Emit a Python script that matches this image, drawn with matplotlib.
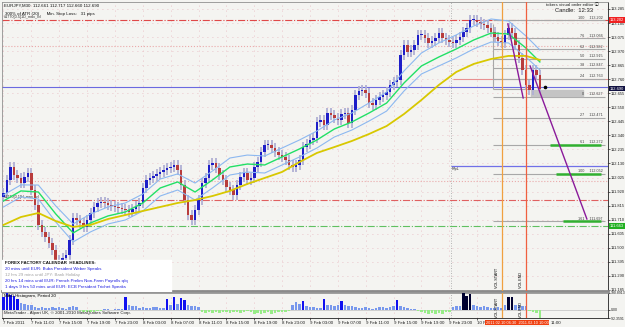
import matplotlib
matplotlib.use("Agg")
import matplotlib.pyplot as plt

# EURJPY M30 closes, one per bar (bar 0 = 7 Feb 07:00)
closes = [111.910, 112.007, 112.104, 112.044, 112.022, 111.984, 112.029, 112.059, 111.932, 111.820,
          111.671, 111.618, 111.581, 111.536, 111.484, 111.409, 111.394, 111.424, 111.446, 111.558,
          111.723, 111.708, 111.686, 111.656, 111.708, 111.760, 111.805, 111.835, 111.842, 111.835,
          111.820, 111.813, 111.805, 111.798, 111.790, 111.783, 111.768, 111.790, 111.813, 111.835,
          111.947, 112.007, 112.022, 112.037, 112.052, 112.067, 112.082, 112.097, 112.104, 112.119,
          112.082, 111.969, 111.857, 111.745, 111.708, 111.783, 111.857, 111.984, 112.022, 112.119,
          112.134, 112.097, 112.044, 112.007, 111.955, 111.932, 111.895, 111.969, 112.029, 112.059,
          112.007, 112.022, 112.104, 112.141, 112.216, 112.268, 112.268, 112.246, 112.216, 112.194,
          112.179, 112.156, 112.119, 112.104, 112.119, 112.156, 112.253, 112.276, 112.306, 112.321,
          112.440, 112.455, 112.418, 112.508, 112.493, 112.470, 112.455, 112.500, 112.508, 112.433,
          112.530, 112.642, 112.672, 112.679, 112.657, 112.582, 112.567, 112.605, 112.627, 112.642,
          112.664, 112.717, 112.739, 112.754, 112.941, 113.016, 112.963, 112.978, 113.016, 113.090,
          113.090, 113.068, 113.031, 113.046, 113.068, 113.105, 113.068, 113.053, 113.038, 113.031,
          113.053, 113.075, 113.113, 113.143, 113.203, 113.203, 113.188, 113.173, 113.165, 113.143,
          113.113, 113.075, 113.046, 113.031, 113.090, 113.143, 113.105, 113.016, 112.919, 112.829,
          112.717, 112.679, 112.829, 112.792, 112.690]
first_open = 111.880

# moving averages read every 5 bars (last point = bar 154)
ma_bars = [0, 5, 10, 15, 20, 25, 30, 35, 40, 45, 50, 55, 60, 65, 70, 75, 80, 85, 90, 95,
           100, 105, 110, 115, 120, 125, 130, 135, 140, 145, 150, 154]
ma_mid = [111.850, 111.925, 111.917, 111.753, 111.611, 111.686, 111.738, 111.768, 111.835, 111.947,
          111.992, 111.917, 112.007, 112.104, 112.126, 112.119, 112.179, 112.239, 112.306, 112.388,
          112.440, 112.508, 112.582, 112.732, 112.859, 112.926, 112.986, 113.053, 113.105, 113.098,
          112.993, 112.889]
ma_up = [111.895, 111.970, 111.969, 111.813, 111.678, 111.753, 111.805, 111.835, 111.902, 112.014,
         112.052, 111.984, 112.074, 112.171, 112.193, 112.186, 112.246, 112.306, 112.373, 112.455,
         112.507, 112.583, 112.664, 112.822, 112.956, 113.031, 113.091, 113.158, 113.210, 113.195,
         113.083, 112.979]
ma_dn = [111.805, 111.880, 111.865, 111.693, 111.544, 111.619, 111.678, 111.708, 111.775, 111.887,
         111.932, 111.857, 111.947, 112.044, 112.066, 112.059, 112.119, 112.179, 112.246, 112.328,
         112.380, 112.448, 112.522, 112.672, 112.799, 112.859, 112.919, 112.986, 113.038, 113.031,
         112.926, 112.829]
ma_slow = [111.671, 111.730, 111.760, 111.700, 111.656, 111.671, 111.715, 111.745, 111.775, 111.805,
           111.835, 111.857, 111.887, 111.925, 111.977, 112.022, 112.067, 112.141, 112.209, 112.253,
           112.298, 112.351, 112.410, 112.500, 112.605, 112.717, 112.814, 112.874, 112.911, 112.934,
           112.934, 112.904]

# histogram sub window, one value per bar
hist = [150, 190, 170, 160, 120, 80, 70, 60, 50, 35, 25, 30, 20, 25, 30, 20, 30, 25, 15, 35,
        40, 30, -15, -25, -20, -30, -20, -15, -10, 5, 10, -5, 10, 15, 5, 140, 55, 45, 40, 25,
        30, 20, 25, 35, 30, 20, 25, 120, 60, 150, 70, 130, 110, 50, 40, 45, 30, -20, -35, -30,
        -40, -25, -35, -30, -20, -40, -30, -25, -35, -20, -15, -30, -45, -35, -50, -40, -30, -45, -35, -25,
        -30, -20, -10, 60, 90, 70, 95, 40, 30, 35, 20, 25, 120, 55, 50, 45, 60, 100, 50, 45,
        40, 35, 20, 25, 30, 20, 15, 25, 30, 35, 25, 30, 40, 110, 40, 35, 25, 10, 15, -10,
        -25, -35, -45, -40, -50, -35, -45, -30, -20, 30, 45, 40, 190, 160, 175, 50, 40, 35, 45, 30,
        25, 20, 30, 25, 60, 140, 150, 60, 55, 45, 40, -15, -25, -35, -92]
hist_black = [132, 133, 134, 145, 146]
hist_max, hist_min = 190.8913, -92.3591

# price axis
price_ticks = [111.185, 111.290, 111.395, 111.500, 111.605, 111.710, 111.815, 111.920, 112.025,
               112.130, 112.235, 112.340, 112.445, 112.550, 112.655, 112.760, 112.865, 112.970,
               113.075, 113.180, 113.285]
time_ticks = [0, 8, 16, 24, 32, 40, 48, 56, 64, 72, 80, 88, 96, 104, 112, 120, 128, 136]
time_labels = ["7 Feb 2011", "7 Feb 11:00", "7 Feb 15:00", "7 Feb 19:00", "7 Feb 23:00",
               "8 Feb 03:00", "8 Feb 07:00", "8 Feb 11:00", "8 Feb 15:00", "8 Feb 19:00",
               "8 Feb 23:00", "9 Feb 03:00", "9 Feb 07:00", "9 Feb 11:00", "9 Feb 15:00",
               "9 Feb 19:00", "9 Feb 23:00", "10 F"]
time_box = "2011.02.10 06:30  2011.02.10 10:00"
time_tail = "11:00"

# fibonacci object
fib_lo, fib_hi = 112.627, 113.202
fib_ratios = [1.0, 0.764, 0.618, 0.5, 0.382, 0.236, 0.0, -0.272, -0.618, -1.0, -1.618]
fib_names = ["100", "76", "62", "50", "38", "24", "0", "27", "61", "100", "161"]
fib_start = 140.5
tp_ratios = [-0.618, -1.0, -1.618]
tp_starts = [157.0, 158.5, 160.5]

# other objects
hlines = [(113.202, "#e04848", "-."), (113.008, "#eaaaaa", ":"), (112.702, "#6a6ae0", "-"),
          (111.999, "#eaaaaa", ":"), (111.857, "#e06060", "-."), (111.663, "#60c060", "-.")]
rpl_level, rpl_start = 112.111, 128.5
red_level, red_start = 112.762, 129.0
day_sep = 128.5
vol_start, vol_end = 143.0, 150.0
trend1 = ([144.8, 149.2], [113.173, 112.620])
trend2 = ([151.2, 167.5], [112.859, 111.715])
dot = (155.5, 112.702)
bid = closes[-1]

plt.rcParams["font.family"] = ["Liberation Sans", "DejaVu Sans", "Noto Sans CJK JP"]
BG = "#f4f4f1"
fs = 3.2
fig = plt.figure(figsize=(6.25, 3.27), dpi=100)
fig.patch.set_facecolor(BG)
ax = fig.add_axes([2 / 625, 1 - 291 / 327, 606 / 625, 289 / 327])
axl = fig.add_axes([2 / 625, 1 - 318 / 327, 606 / 625, 25 / 327], sharex=ax)
for a in (ax, axl):
    a.set_facecolor(BG)
    for s in a.spines.values():
        s.set_color("#909090")
        s.set_linewidth(0.6)
    a.spines["right"].set_color("#202020")
    a.yaxis.tick_right()
    a.tick_params(axis="y", labelsize=2.9, length=1.2, width=0.5, pad=0.8, colors="#202020")
axl.tick_params(axis="y", labelsize=2.5)
ax.spines["bottom"].set_linewidth(2)
ax.spines["bottom"].set_color("#8a8a8a")
axl.spines["bottom"].set_color("#202020")

ax.set_xlim(-0.43, 173.56)
ax.set_ylim(111.177, 113.337)
ax.set_yticks(price_ticks)
ax.set_yticklabels([f"{p:.3f}" for p in price_ticks])
ax.tick_params(axis="x", bottom=False, labelbottom=False)
ax.grid(True, color="#e8b4bc", linestyle=(0, (1, 5)), linewidth=0.6)

# candles
opens = [first_open] + closes[:-1]
for i, (o, c) in enumerate(zip(opens, closes)):
    lo, hi = min(o, c), max(o, c)
    ax.vlines(i, lo - 0.035, hi + 0.035, color="#b0b0d4", lw=1.3, zorder=3)
    col = "#1e1ec8" if c >= o else "#b83c3c"
    ax.bar(i, max(hi - lo, 0.008), bottom=lo, width=0.72, color=col, lw=0, zorder=4)

ax.plot(ma_bars, ma_up, color="#8cb8f0", lw=0.8, zorder=5)
ax.plot(ma_bars, ma_dn, color="#8cb8f0", lw=0.8, zorder=5)
ax.plot(ma_bars, ma_mid, color="#22e066", lw=1.0, zorder=5)
ax.plot(ma_bars, ma_slow, color="#d8c800", lw=1.3, zorder=5)

xr = ax.get_xlim()[1]
for lvl, col, ls in hlines:
    ax.axhline(lvl, color=col, ls=ls, lw=0.8, zorder=2)
ax.hlines(red_level, red_start, xr, color="#e89090", lw=0.8, zorder=2)
ax.hlines(rpl_level, rpl_start, xr, color="#7070e8", lw=0.9, zorder=2)
ax.text(rpl_start + 0.3, rpl_level - 0.01, "R/pL", fontsize=2.7, va="top", color="#303030")

fib_span = fib_hi - fib_lo
for r, name in zip(fib_ratios, fib_names):
    lvl = fib_lo + r * fib_span
    ax.hlines(lvl, fib_start, xr - 1, color="#a8a8a8", lw=0.8, zorder=2)
    ax.text(xr - 1.5, lvl + 0.004, f"{name}     {lvl:.3f}", fontsize=2.7, ha="right", va="bottom",
            color="#404040", zorder=6)
for r, st in zip(tp_ratios, tp_starts):
    ax.hlines(fib_lo + r * fib_span, st, xr - 2, color="#30b030", lw=1.8, zorder=3)
ax.vlines(fib_start, fib_lo + 0.06, fib_hi - 0.03, color="#a8a8a8", lw=0.8, zorder=2)
ax.hlines(fib_lo + 0.06, fib_start, 151.5, color="#a8a8a8", lw=0.8, zorder=2)
ax.fill_between([151.5, 166.5], fib_lo + 0.005, fib_lo + 0.055, color="#c4c4c4", zorder=2)

ax.plot(*trend1, color="#8a1a9a", lw=1.0, zorder=6)
ax.plot(*trend2, color="#8a1a9a", lw=1.0, zorder=6)
ax.plot(*dot, "o", color="black", ms=1.6, zorder=7)

for a in (ax, axl):
    a.axvline(day_sep, color="#a0a0a0", ls=(0, (1, 2)), lw=0.6, zorder=1)
    a.axvline(vol_start, color="#f0a040", lw=0.9, zorder=6)
    a.axvline(vol_end, color="#f06040", lw=0.9, zorder=6)
ax.text(vol_start - 0.8, 111.20, "VOL START", rotation=90, fontsize=2.7, ha="right", va="bottom")
ax.text(vol_end - 0.8, 111.20, "VOL END", rotation=90, fontsize=2.7, ha="right", va="bottom")

# axis value flags
for lvl, col in [(fib_hi, "#f02020"), (bid, "#101040"), (111.663, "#22b022")]:
    ax.text(1.003, (lvl - 111.177) / (113.337 - 111.177), f"{lvl:.3f}", transform=ax.transAxes,
            fontsize=2.9, color="white", va="center", ha="left",
            bbox=dict(boxstyle="square,pad=0.15", fc=col, ec="none"), clip_on=False, zorder=8)

# header texts
ax.text(0.003, 0.995, "EURJPY,M30  112.661 112.717 112.660 112.690", transform=ax.transAxes,
        fontsize=fs, va="top", color="#101010")
ax.text(0.005, 0.965, "300% of ATR (20)      Min. Stop Loss:   31 pips", transform=ax.transAxes,
        fontsize=fs, va="top", color="#101010")
ax.text(0.003, 113.202 + 0.008, "#1770[0.5]1D_max_lvl", fontsize=2.7, va="bottom", color="#303030")
ax.text(0.003, 111.857 + 0.008, "#1770[0.1]H_max_lvl", fontsize=2.7, va="bottom", color="#303030")
ax.text(0.985, 0.997, "tokers visual order editor \u24d8", transform=ax.transAxes, fontsize=fs,
        ha="right", va="top", color="#202020")
ax.text(0.975, 0.978, "Candle:  12:33", transform=ax.transAxes, fontsize=4.2,
        ha="right", va="top", color="#202020")

# calendar box
news = [("FOREX FACTORY CALENDAR  HEADLINES:", "#101010"),
        ("20 mins until EUR: Buba President Weber Speaks", "#2020e0"),
        ("12 hrs 29 mins until JPY: Bank Holiday", "#a0a0a0"),
        ("20 hrs 14 mins until EUR: French Prelim Non-Farm Payrolls q/q", "#2020e0"),
        ("1 days 9 hrs 50 mins until EUR: ECB President Trichet Speaks", "#2020e0")]
ax.fill_between([-0.43, 48.0], 111.177, 111.41, color="white", zorder=7)
for k, (line, col) in enumerate(news):
    ax.text(0.3, 111.385 - k * 0.045, line, fontsize=fs, color=col, va="center", zorder=8,
            fontweight="bold" if k == 0 else "normal")

# histogram panel
for i, v in enumerate(hist):
    if i in hist_black:
        col = "#000030"
    elif v >= 95:
        col = "#1010f0"
    elif v > 0:
        col = "#7898ec"
    else:
        col = "#98ec88"
    axl.bar(i, v, width=0.72, color=col, lw=0, zorder=3)
axl.set_ylim(hist_min, hist_max)
axl.set_yticks([hist_max, 0, hist_min])
axl.set_yticklabels(["190.8913", "0.00", "-92.3591"])
axl.axhline(0, color="#c0c0c0", lw=0.5, zorder=2)
axl.grid(True, axis="x", color="#e8b4bc", linestyle=(0, (1, 5)), linewidth=0.6)
axl.text(0.003, 0.95, "MAO Histogram, Period 20", transform=axl.transAxes, fontsize=fs, va="top")
axl.text(0.003, 0.12, "MetaTrader - Alpari UK, \u00a9 2001-2010 MetaQuotes Software Corp.",
         transform=axl.transAxes, fontsize=fs, va="bottom", color="#202020", zorder=6)
axl.text(vol_start - 0.8, hist_min, "VOL START", rotation=90, fontsize=2.7, ha="right", va="bottom")
axl.text(vol_end - 0.8, hist_min, "VOL END", rotation=90, fontsize=2.7, ha="right", va="bottom")
axl.set_xticks(time_ticks)
axl.set_xticklabels(time_labels, ha="left")
axl.tick_params(axis="x", labelsize=fs, length=1.5, width=0.5, pad=1, colors="#202020")
xt = axl.get_xaxis_transform()
axl.text(138.4, -0.1, time_box, transform=xt, fontsize=2.8, color="white", va="top", ha="left",
         clip_on=False, zorder=9, bbox=dict(boxstyle="square,pad=0.2", fc="#f04010", ec="none"))
axl.text(157.0, -0.1, time_tail, transform=xt, fontsize=fs, color="#202020", va="top", ha="left",
         clip_on=False)

fig.savefig("out.png", dpi=100, facecolor=BG)
